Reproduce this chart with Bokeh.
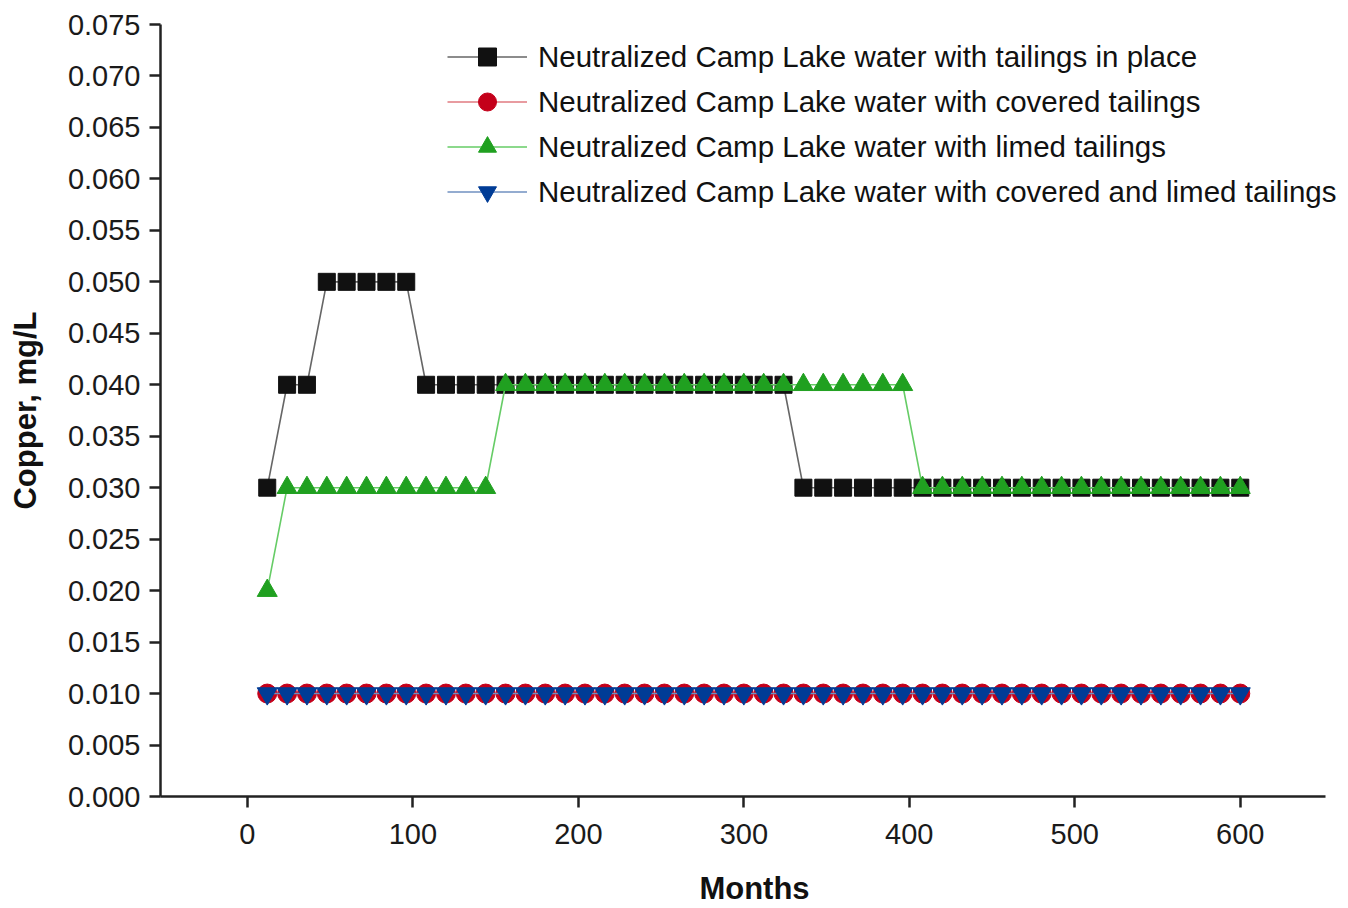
from bokeh.plotting import figure
from bokeh.models import Legend, LegendItem, Range1d, FixedTicker, NumeralTickFormatter
from bokeh.embed import file_html
from bokeh.resources import INLINE

months = [12, 24, 36, 48, 60, 72, 84, 96, 108, 120,
          132, 144, 156, 168, 180, 192, 204, 216, 228, 240,
          252, 264, 276, 288, 300, 312, 324, 336, 348, 360,
          372, 384, 396, 408, 420, 432, 444, 456, 468, 480,
          492, 504, 516, 528, 540, 552, 564, 576, 588, 600]

tailings_in_place = [0.030, 0.040, 0.040, 0.050, 0.050, 0.050, 0.050, 0.050, 0.040, 0.040,
                     0.040, 0.040, 0.040, 0.040, 0.040, 0.040, 0.040, 0.040, 0.040, 0.040,
                     0.040, 0.040, 0.040, 0.040, 0.040, 0.040, 0.040, 0.030, 0.030, 0.030,
                     0.030, 0.030, 0.030, 0.030, 0.030, 0.030, 0.030, 0.030, 0.030, 0.030,
                     0.030, 0.030, 0.030, 0.030, 0.030, 0.030, 0.030, 0.030, 0.030, 0.030]

covered_tailings = [0.010, 0.010, 0.010, 0.010, 0.010, 0.010, 0.010, 0.010, 0.010, 0.010,
                    0.010, 0.010, 0.010, 0.010, 0.010, 0.010, 0.010, 0.010, 0.010, 0.010,
                    0.010, 0.010, 0.010, 0.010, 0.010, 0.010, 0.010, 0.010, 0.010, 0.010,
                    0.010, 0.010, 0.010, 0.010, 0.010, 0.010, 0.010, 0.010, 0.010, 0.010,
                    0.010, 0.010, 0.010, 0.010, 0.010, 0.010, 0.010, 0.010, 0.010, 0.010]

limed_tailings = [0.020, 0.030, 0.030, 0.030, 0.030, 0.030, 0.030, 0.030, 0.030, 0.030,
                  0.030, 0.030, 0.040, 0.040, 0.040, 0.040, 0.040, 0.040, 0.040, 0.040,
                  0.040, 0.040, 0.040, 0.040, 0.040, 0.040, 0.040, 0.040, 0.040, 0.040,
                  0.040, 0.040, 0.040, 0.030, 0.030, 0.030, 0.030, 0.030, 0.030, 0.030,
                  0.030, 0.030, 0.030, 0.030, 0.030, 0.030, 0.030, 0.030, 0.030, 0.030]

covered_limed_tailings = [0.010, 0.010, 0.010, 0.010, 0.010, 0.010, 0.010, 0.010, 0.010, 0.010,
                          0.010, 0.010, 0.010, 0.010, 0.010, 0.010, 0.010, 0.010, 0.010, 0.010,
                          0.010, 0.010, 0.010, 0.010, 0.010, 0.010, 0.010, 0.010, 0.010, 0.010,
                          0.010, 0.010, 0.010, 0.010, 0.010, 0.010, 0.010, 0.010, 0.010, 0.010,
                          0.010, 0.010, 0.010, 0.010, 0.010, 0.010, 0.010, 0.010, 0.010, 0.010]

labels = ["Neutralized Camp Lake water with tailings in place",
          "Neutralized Camp Lake water with covered tailings",
          "Neutralized Camp Lake water with limed tailings",
          "Neutralized Camp Lake water with covered and limed tailings"]

y_ticks = [0.000, 0.005, 0.010, 0.015, 0.020, 0.025, 0.030, 0.035,
           0.040, 0.045, 0.050, 0.055, 0.060, 0.065, 0.070, 0.075]
x_ticks = [0, 100, 200, 300, 400, 500, 600]

FONT = "Liberation Sans"

p = figure(width=1348, height=908, output_backend="svg", toolbar_location=None,
           x_range=Range1d(-52.5, 665.4), y_range=Range1d(0, 0.075),
           min_border_left=160, min_border_right=0, min_border_top=24, min_border_bottom=112)
p.outline_line_color = None
p.xgrid.visible = False
p.ygrid.visible = False
p.background_fill_color = "white"
p.border_fill_color = "white"

for ax in (p.xaxis[0], p.yaxis[0]):
    ax.axis_line_width = 2.5
    ax.axis_line_color = "#222222"
    ax.major_tick_line_width = 2.5
    ax.major_tick_line_color = "#222222"
    ax.major_tick_out = 11
    ax.major_tick_in = 0
    ax.minor_tick_line_color = None
    ax.major_label_text_font = FONT
    ax.major_label_text_font_size = "29px"
    ax.major_label_text_color = "#1a1a1a"
    ax.axis_label_text_font = FONT
    ax.axis_label_text_font_size = "31px"
    ax.axis_label_text_font_style = "bold"
    ax.axis_label_text_color = "#111111"

p.xaxis[0].bounds = (-52.5, 651.5)
p.xaxis[0].ticker = FixedTicker(ticks=x_ticks)
p.yaxis[0].ticker = FixedTicker(ticks=y_ticks)
p.yaxis[0].formatter = NumeralTickFormatter(format="0.000")
p.xaxis[0].axis_label = "Months"
p.yaxis[0].axis_label = "Copper, mg/L"
p.xaxis[0].major_label_standoff = 16
p.yaxis[0].major_label_standoff = 9
p.xaxis[0].axis_label_standoff = 24
p.yaxis[0].axis_label_standoff = 22

l1 = p.line(months, tailings_in_place, line_color="#666666", line_width=1.6)
m1 = p.scatter(months, tailings_in_place, marker="square", size=17,
               fill_color="#111111", line_color="#111111")
l2 = p.line(months, covered_tailings, line_color="#e07a80", line_width=1.6)
m2 = p.scatter(months, covered_tailings, marker="circle", size=19,
               fill_color="#c4001a", line_color="#c4001a")
l3 = p.line(months, limed_tailings, line_color="#66cc66", line_width=1.6)
m3 = p.scatter(months, limed_tailings, marker="triangle", size=20,
               fill_color="#20a020", line_color="#20a020")
l4 = p.line(months, covered_limed_tailings, line_color="#7090c0", line_width=1.6)
m4 = p.scatter(months, covered_limed_tailings, marker="inverted_triangle", size=20,
               fill_color="#003c96", line_color="#003c96")

legend = Legend(items=[LegendItem(label=labels[0], renderers=[l1, m1]),
                       LegendItem(label=labels[1], renderers=[l2, m2]),
                       LegendItem(label=labels[2], renderers=[l3, m3]),
                       LegendItem(label=labels[3], renderers=[l4, m4])],
                location=(287, 582), orientation="vertical")
legend.glyph_width = 80
legend.glyph_height = 45
legend.label_height = 45
legend.spacing = 0
legend.padding = 0
legend.margin = 0
legend.label_standoff = 11
legend.label_text_font = FONT
legend.label_text_font_size = "29.5px"
legend.label_text_color = "#111111"
legend.background_fill_alpha = 0
legend.border_line_color = None
p.add_layout(legend, "center")

open("out.html", "w").write(file_html(p, INLINE))
